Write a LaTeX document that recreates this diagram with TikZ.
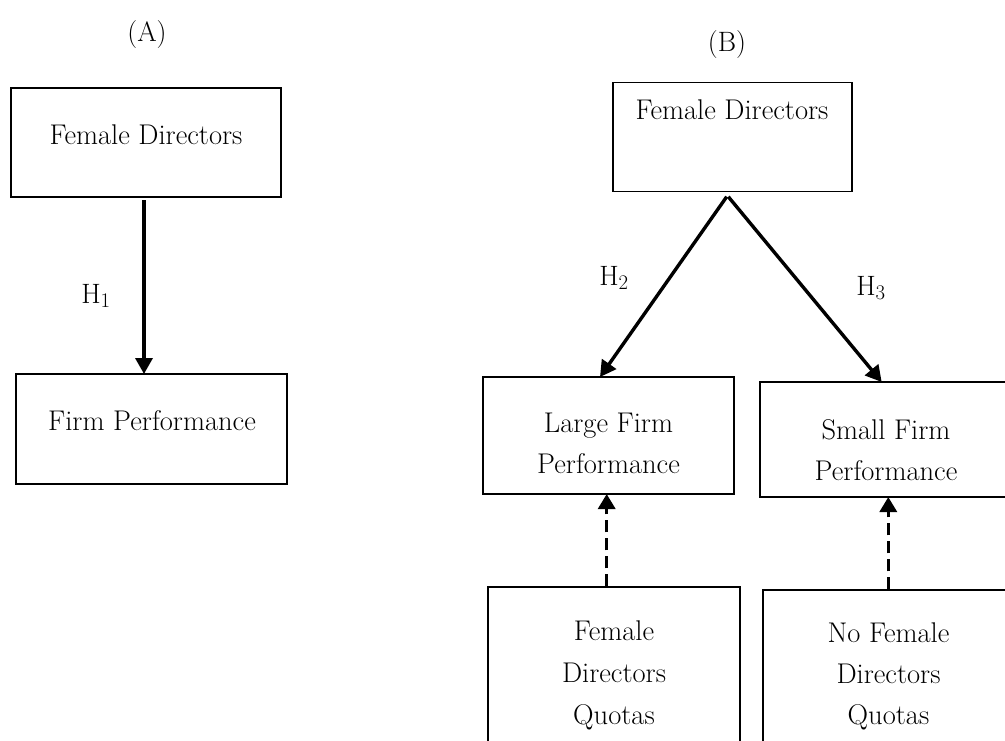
\documentclass[tikz,border=0pt]{standalone}
\usetikzlibrary{arrows.meta}
\begin{document}
\begin{tikzpicture}[x=1pt,y=-1pt,
  box/.style={draw, line width=1.1pt, rectangle, inner sep=0pt},
  txt/.style={font=\fontsize{28.5}{41}\selectfont, align=center, inner sep=0pt},
  hlab/.style={font=\fontsize{28}{30}\selectfont, inner sep=0pt},
  solidarrow/.style={line width=3.4pt, -{Triangle[length=16pt,width=17pt]}},
  dasharrow/.style={line width=3.4pt, dash pattern=on 12pt off 6pt, -{Triangle[length=15pt,width=17pt]}}]
\useasboundingbox (0,0) rectangle (1005,740);
\clip (0,0) rectangle (1005,740);
% panel labels
\node[hlab] (la) at (147,35) {(A)};
\node[hlab] (lb) at (727,45) {(B)};
% panel A
\node[box, minimum width=270pt, minimum height=109pt] (a1) at (146,142.5) {};
\node[txt] (a1t) at (146,135) {Female Directors};
\node[box, minimum width=271pt, minimum height=110pt] (a2) at (151.5,429) {};
\node[txt] (a2t) at (152,421) {Firm Performance};
\coordinate (a1s) at (144,200);
\coordinate (a2e) at (144,374);
\draw[solidarrow] (a1s) -- (a2e);
\node[hlab] (h1) at (96,296) {H$_{1}$};
% panel B
\node[box, minimum width=239pt, minimum height=109pt] (b1) at (732.5,137) {};
\node[txt] (b1t) at (732,110) {Female Directors};
\node[box, minimum width=251pt, minimum height=117pt] (lg) at (608.5,435.5) {};
\node[txt] (lgt) at (608.5,443) {Large Firm\\Performance};
\node[box, minimum width=260pt, minimum height=115pt] (sm) at (890,439.5) {};
\node[txt] (smt) at (886,450) {Small Firm\\Performance};
\node[box, minimum width=252pt, minimum height=200pt] (q1) at (614,687) {};
\node[txt, font=\fontsize{28.5}{42}\selectfont] (q1t) at (614,675) {Female\\Directors\\Quotas};
\node[box, minimum width=260pt, minimum height=200pt] (q2) at (893,690) {};
\node[txt, font=\fontsize{28.5}{41}\selectfont] (q2t) at (888.5,676.5) {No Female\\Directors\\Quotas};
\coordinate (bs1) at (726.7,196.7);
\coordinate (bs2) at (728.3,196.7);
\coordinate (lge) at (600,377);
\coordinate (sme) at (881.7,382);
\draw[solidarrow] (bs1) -- (lge);
\draw[solidarrow] (bs2) -- (sme);
\node[hlab] (h2) at (614,278) {H$_{2}$};
\node[hlab] (h3) at (871,288) {H$_{3}$};
\draw[dasharrow] (q1.north -| 606.7,0) -- (606.7,494);
\draw[dasharrow] (q2.north -| 888.3,0) -- (888.3,497);
\end{tikzpicture}
\end{document}
